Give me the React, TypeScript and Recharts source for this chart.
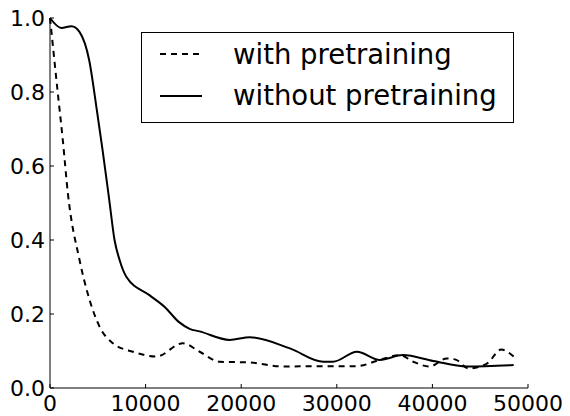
import React from 'react';
import { LineChart, Line, XAxis, YAxis, Legend } from 'recharts';

// iteration values
const withX = [0, 130, 820, 1340, 1870, 3090, 4140, 5180, 6580, 8670, 11120, 13900, 15650, 17750, 20900, 24400, 27900, 32100, 34500, 36600, 38000, 39700, 41500, 42500, 43750, 45700, 47200, 48500];
const withY = [1.0, 0.968, 0.796, 0.67, 0.526, 0.346, 0.238, 0.166, 0.121, 0.098, 0.085, 0.121, 0.098, 0.071, 0.069, 0.058, 0.059, 0.059, 0.076, 0.089, 0.071, 0.058, 0.08, 0.076, 0.053, 0.066, 0.104, 0.085];

const withoutX = [0, 1200, 2250, 3100, 4100, 4900, 5500, 6200, 6750, 7280, 8000, 10400, 12000, 13500, 14600, 15650, 18800, 20900, 25100, 28600, 29600, 32100, 34500, 36900, 40100, 43600, 48500];
const withoutY = [1.0, 0.973, 0.978, 0.962, 0.886, 0.751, 0.643, 0.508, 0.4, 0.346, 0.3, 0.251, 0.219, 0.178, 0.16, 0.153, 0.13, 0.137, 0.107, 0.071, 0.071, 0.098, 0.076, 0.089, 0.073, 0.058, 0.062];

const xTicks = [0, 10000, 20000, 30000, 40000, 50000];
const yTicks = [0, 0.2, 0.4, 0.6, 0.8, 1.0];

const seriesNames = ['with pretraining', 'without pretraining'];

const withData = withX.map((x, i) => ({ x, y: withY[i] }));
const withoutData = withoutX.map((x, i) => ({ x, y: withoutY[i] }));

const FONT = '"DejaVu Sans", sans-serif';

const BottomTick = (props: any) => {
    const { x, y, payload } = props;
    return (
        <g>
            <line x1={x} y1={y} x2={x} y2={y - 4} stroke="#000" />
            <text x={x} y={y + 23} textAnchor="middle" fontSize={22} fontFamily={FONT} fill="#000">
                {payload.value}
            </text>
        </g>
    );
};

const LeftTick = (props: any) => {
    const { x, y, payload } = props;
    return (
        <g>
            <line x1={x} y1={y} x2={x + 4} y2={y} stroke="#000" />
            <text x={x - 5} y={y + 8} textAnchor="end" fontSize={22} fontFamily={FONT} fill="#000">
                {Number(payload.value).toFixed(1)}
            </text>
        </g>
    );
};

const TopTick = (props: any) => {
    const { x, y } = props;
    return <line x1={x} y1={y} x2={x} y2={y + 4} stroke="#000" />;
};

const RightTick = (props: any) => {
    const { x, y } = props;
    return <line x1={x} y1={y} x2={x - 4} y2={y} stroke="#000" />;
};

const LegendBox = () => (
    <svg width={374} height={92} style={{ display: 'block' }}>
        <rect x={0.5} y={0.5} width={372} height={90} fill="#fff" stroke="#000" />
        <line x1={19} y1={22} x2={60} y2={22} stroke="#000" strokeWidth={2} strokeDasharray="6 5" />
        <text x={92} y={31.5} fontSize={27.5} fontFamily={FONT} fill="#000">{seriesNames[0]}</text>
        <line x1={19} y1={64} x2={61} y2={64} stroke="#000" strokeWidth={2} />
        <text x={92} y={73} fontSize={27.5} fontFamily={FONT} fill="#000">{seriesNames[1]}</text>
    </svg>
);

export default function App() {
    return (
        <div style={{ position: 'absolute', left: 0, top: 0, background: '#fff' }}>
            <LineChart width={570} height={416} margin={{ top: 18, right: 42, left: 0, bottom: 0 }}>
                <XAxis
                    type="number"
                    dataKey="x"
                    domain={[0, 50000]}
                    ticks={xTicks}
                    height={28}
                    tickSize={0}
                    tickMargin={0}
                    tick={<BottomTick />}
                    axisLine={{ stroke: '#000' }}
                    interval={0}
                />
                <XAxis
                    xAxisId="top"
                    orientation="top"
                    type="number"
                    domain={[0, 50000]}
                    ticks={xTicks}
                    height={0}
                    tickSize={0}
                    tickMargin={0}
                    tick={<TopTick />}
                    axisLine={{ stroke: '#000' }}
                    interval={0}
                />
                <YAxis
                    type="number"
                    domain={[0, 1]}
                    ticks={yTicks}
                    width={50}
                    tickSize={0}
                    tickMargin={0}
                    tick={<LeftTick />}
                    axisLine={{ stroke: '#000' }}
                    interval={0}
                />
                <YAxis
                    yAxisId="right"
                    orientation="right"
                    type="number"
                    domain={[0, 1]}
                    ticks={yTicks}
                    width={0}
                    tickSize={0}
                    tickMargin={0}
                    tick={<RightTick />}
                    axisLine={{ stroke: '#000' }}
                    interval={0}
                />
                <Legend
                    layout="vertical"
                    align="center"
                    verticalAlign="middle"
                    content={<LegendBox />}
                    wrapperStyle={{ position: 'absolute', left: 141, top: 32, width: 374, height: 92 }}
                />
                <Line
                    data={withData}
                    dataKey="y"
                    name={seriesNames[0]}
                    type="monotone"
                    stroke="#000"
                    strokeWidth={2}
                    strokeDasharray="6 5"
                    dot={false}
                    isAnimationActive={false}
                />
                <Line
                    data={withoutData}
                    dataKey="y"
                    name={seriesNames[1]}
                    type="monotone"
                    stroke="#000"
                    strokeWidth={2}
                    dot={false}
                    isAnimationActive={false}
                />
            </LineChart>
        </div>
    );
}
